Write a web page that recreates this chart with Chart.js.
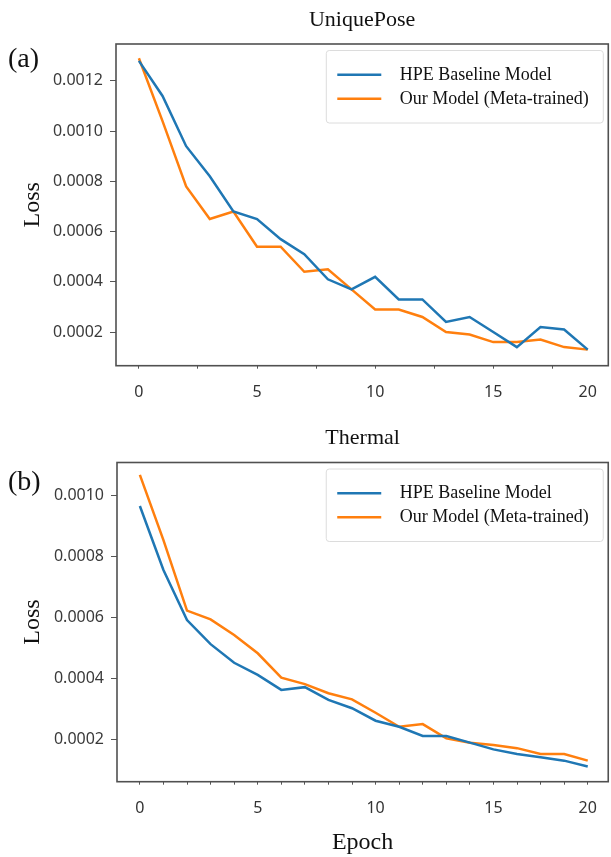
<!DOCTYPE html>
<html>
<head>
<meta charset="utf-8">
<script src="https://cdn.jsdelivr.net/npm/chart.js@4.4.0/dist/chart.umd.min.js"></script>
<style>
  html, body { margin: 0; padding: 0; background: #fff; }
  #wrap { position: relative; width: 611px; height: 857px; }
  .panel { position: absolute; left: 0; width: 611px; }
  #top { top: 0; height: 400px; }
  #bottom { top: 400px; height: 457px; }
</style>
</head>
<body>
<div id="wrap">
  <div class="panel" id="top"><canvas id="chartA"></canvas></div>
  <div class="panel" id="bottom"><canvas id="chartB"></canvas></div>
</div>
<script>
/* ++++++++++ DATA ++++++++++ */
const epochs = [0, 1, 2, 3, 4, 5, 6, 7, 8, 9, 10, 11, 12, 13, 14, 15, 16, 17, 18, 19];
const seriesNames = ['HPE Baseline Model', 'Our Model (Meta-trained)'];
const seriesColors = ['#1f77b4', '#ff7f0e'];

const uniqueBaseline = [0.00128, 0.00114, 0.00094, 0.00082, 0.00068, 0.00065, 0.00057, 0.00051, 0.00041, 0.00037,
  0.00042, 0.00033, 0.00033, 0.00024, 0.00026, 0.00020, 0.00014, 0.00022, 0.00021, 0.00013];
const uniqueMeta = [0.00129, 0.00104, 0.00078, 0.00065, 0.00068, 0.00054, 0.00054, 0.00044, 0.00045, 0.00037,
  0.00029, 0.00029, 0.00026, 0.00020, 0.00019, 0.00016, 0.00016, 0.00017, 0.00014, 0.00013];

const thermalBaseline = [0.000964, 0.000754, 0.00059, 0.000511, 0.00045, 0.00041, 0.000361, 0.00037, 0.000328, 0.000301,
  0.00026, 0.00024, 0.00021, 0.00021, 0.000188, 0.000166, 0.000151, 0.00014, 0.000129, 0.00011];
const thermalMeta = [0.001066, 0.000852, 0.000621, 0.000592, 0.000541, 0.000481, 0.000401, 0.00038, 0.00035, 0.00033,
  0.000286, 0.00024, 0.000249, 0.000202, 0.000188, 0.00018, 0.00017, 0.000151, 0.000151, 0.000129];

const yTicksA = [0.0002, 0.0004, 0.0006, 0.0008, 0.0010, 0.0012];
const yTicksB = [0.0002, 0.0004, 0.0006, 0.0008, 0.0010];
const xTicksA = [0, 2.5, 5, 7.5, 10, 12.5, 15, 17.5, 19];
const xTicksB = epochs;
const xTickLabels = { 0: '0', 5: '5', 10: '10', 15: '15', 19: '20' };

const serif = 'Liberation Serif';
const sans = 'Noto Sans';

/* ++++++++++ FRAME, LEGEND, PANEL LABEL ++++++++++ */
const decorPlugin = {
  id: 'decor',
  afterDraw(chart, args, opts) {
    const ctx = chart.ctx;
    const area = chart.chartArea;
    ctx.save();

    // axes frame
    ctx.strokeStyle = '#505050';
    ctx.lineWidth = 1.6;
    ctx.strokeRect(area.left, area.top, area.right - area.left, area.bottom - area.top);

    // legend box
    const bx = area.right - 282, by = area.top + 6.5, bw = 277, bh = 72.5;
    ctx.fillStyle = 'rgba(255,255,255,0.9)';
    ctx.strokeStyle = '#dcdcdc';
    ctx.lineWidth = 1;
    ctx.beginPath();
    ctx.roundRect(bx, by, bw, bh, 3);
    ctx.fill();
    ctx.stroke();

    ctx.font = `18px "${serif}"`;
    ctx.textBaseline = 'middle';
    chart.data.datasets.forEach((ds, i) => {
      const y = by + 24.3 + i * 24;
      ctx.strokeStyle = ds.borderColor;
      ctx.lineWidth = 2.6;
      ctx.beginPath();
      ctx.moveTo(bx + 11, y);
      ctx.lineTo(bx + 55, y);
      ctx.stroke();
      ctx.fillStyle = '#111';
      ctx.fillText(ds.label, bx + 73.5, y);
    });

    // panel label
    ctx.font = `28px "${serif}"`;
    ctx.fillStyle = '#111';
    ctx.fillText(opts.label, 8, opts.labelY);
    ctx.restore();
  }
};

/* ++++++++++ CHART BUILDER ++++++++++ */
function createLossChart(canvasId, cfg) {
  const datasets = [cfg.baseline, cfg.meta].map((values, i) => ({
    label: seriesNames[i],
    data: epochs.map((e, j) => ({ x: e, y: values[j] })),
    borderColor: seriesColors[i],
    backgroundColor: seriesColors[i],
    borderWidth: 2.5,
    pointRadius: 0,
    tension: 0
  }));

  return new Chart(document.getElementById(canvasId), {
    type: 'line',
    data: { datasets },
    plugins: [decorPlugin],
    options: {
      responsive: true,
      maintainAspectRatio: false,
      animation: false,
      layout: { padding: { top: cfg.padTop, right: 1, left: 0, bottom: 0 } },
      plugins: {
        legend: { display: false },
        tooltip: { enabled: false },
        title: {
          display: true,
          text: cfg.title,
          fullSize: false,
          color: '#111',
          font: { family: serif, size: 22, weight: 'normal' },
          padding: { top: 3, bottom: 10.6 }
        },
        decor: { label: cfg.panel, labelY: cfg.panelY }
      },
      scales: {
        x: {
          type: 'linear',
          min: -0.97,
          max: 19.87,
          afterBuildTicks: scale => { scale.ticks = cfg.xTicks.map(v => ({ value: v })); },
          afterFit: scale => { scale.height = cfg.xAxisHeight; },
          ticks: {
            autoSkip: false,
            maxRotation: 0,
            padding: 14,
            color: '#333',
            font: { family: sans, size: 16 },
            callback: v => xTickLabels[v] ?? ''
          },
          grid: {
            drawOnChartArea: false,
            tickLength: 3,
            tickColor: ctx => (cfg.hideLastTick && ctx.tick && ctx.tick.value === 19) ? 'rgba(0,0,0,0)' : '#555'
          },
          border: { display: false },
          title: {
            display: !!cfg.xTitle,
            text: cfg.xTitle || '',
            color: '#111',
            font: { family: serif, size: 24 },
            padding: { top: 0, bottom: 0 }
          }
        },
        y: {
          min: cfg.yMin,
          max: cfg.yMax,
          afterBuildTicks: scale => { scale.ticks = cfg.yTicks.map(v => ({ value: v })); },
          afterFit: scale => { scale.width = cfg.yAxisWidth; },
          ticks: {
            padding: 7,
            color: '#3a3a3a',
            font: { family: sans, size: 16 },
            callback: v => v.toFixed(4)
          },
          grid: { drawOnChartArea: false, tickLength: 6, tickColor: '#555' },
          border: { display: false },
          title: {
            display: true,
            text: 'Loss',
            color: '#111',
            font: { family: serif, size: 24 },
            padding: { top: 18.6, bottom: 0 }
          }
        }
      }
    }
  });
}

createLossChart('chartA', {
  title: 'UniquePose', panel: '(a)', panelY: 60,
  baseline: uniqueBaseline, meta: uniqueMeta,
  yMin: 0.000066, yMax: 0.001347, yTicks: yTicksA,
  xTicks: xTicksA, hideLastTick: true,
  padTop: 4, xAxisHeight: 34.3, yAxisWidth: 116
});

createLossChart('chartB', {
  title: 'Thermal', panel: '(b)', panelY: 83,
  baseline: thermalBaseline, meta: thermalMeta,
  yMin: 0.00006, yMax: 0.0011066, yTicks: yTicksB,
  xTicks: xTicksB, hideLastTick: false, xTitle: 'Epoch',
  padTop: 22.5, xAxisHeight: 75.3, yAxisWidth: 117
});
</script>
</body>
</html>
